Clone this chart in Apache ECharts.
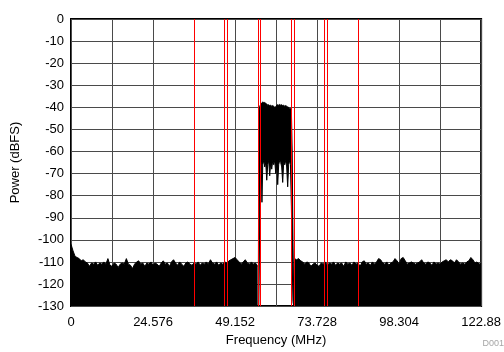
<!DOCTYPE html>
<html>
<head>
<meta charset="utf-8">
<script src="https://cdn.jsdelivr.net/npm/echarts@6/dist/echarts.min.js"></script>
<style>
  html, body { margin: 0; padding: 0; background: #fff; }
  #chart { width: 504px; height: 352px; }
</style>
</head>
<body>
<div id="chart"></div>
<script>
// FFT bin width of the spectrum (MHz)
const binStep = 0.6144

// noise floor below the carrier, bins 0..91
const noiseLow = [
  -102, -105, -107.5, -108, -108.5, -109.5, -109, -110, -110.5, -112,
  -110.5, -111, -110, -111.5, -110.5, -111, -110, -111, -108.5, -111.5,
  -112, -110.5, -111, -112.5, -111, -110.5, -111, -108.5, -111, -111.5,
  -113, -111, -110, -109.5, -111, -110.5, -112, -110.5, -111, -110,
  -111.5, -110.5, -111, -112, -110.5, -109.5, -111, -110.5, -112, -110,
  -109, -110.5, -111.5, -110, -111, -112, -110.5, -110, -111, -111.5,
  -110.5, -111, -110, -111.5, -110.5, -111, -110, -111, -109, -110.5,
  -111, -110, -111.5, -110.5, -111, -110, -110.5, -109.5, -109, -108.5,
  -108, -109, -110, -111, -110, -109, -110.5, -111, -110, -111,
  -110.5, -112,
]
const noiseLowStartBin = 0

// noise floor above the carrier, bins 109..200
const noiseHigh = [
  -108.5, -109, -108.5, -109.5, -110, -111, -110, -110.5, -112, -111,
  -110.5, -111.5, -112, -110.5, -111, -110, -111.5, -110.5, -111, -110,
  -111.5, -110.5, -111, -110.5, -112, -110, -111, -110.5, -111.5, -110,
  -111, -110.5, -112, -110, -109.5, -111, -110.5, -111.5, -110, -111,
  -110, -108.5, -109, -110.5, -111, -110, -111.5, -110.5, -110, -108.5,
  -109.5, -111, -108.5, -108, -109.5, -111, -110.5, -110, -110.5, -111,
  -110.5, -110, -109, -110.5, -111, -110, -110.5, -111.5, -110, -111,
  -110.5, -111, -110, -109.5, -109, -110, -109, -109.5, -110.5, -109,
  -110, -111, -110.5, -111, -110, -109.5, -108, -109, -110.5, -110,
  -111, -110.5,
]
const noiseHighStartBin = 109

// carrier: frequency, top of trace, bottom of trace
const bandFreq = [
  56.11, 56.28, 56.49, 56.70, 57.00, 57.21, 57.45, 57.75, 58.05, 58.35,
  58.65, 58.94, 59.24, 59.54, 59.84, 60.14, 60.44, 60.74, 61.04, 61.34,
  61.64, 61.93, 62.23, 62.53, 62.83, 63.13, 63.43, 63.73, 64.03, 64.33,
  64.62, 64.92, 65.22, 65.52, 65.76, 66.03, 66.27, 66.51, 66.75,
]
const bandTop = [
  -130, -42, -40, -39, -38.5, -38, -37.5, -38, -37.8, -38.2,
  -38.5, -39, -38.8, -39.2, -39, -39.5, -39.2, -39.5, -40, -39.8,
  -39, -38.8, -39, -38.7, -39, -38.8, -39.2, -39, -39.5, -39.2,
  -39.5, -39.8, -40, -40.5, -40.5, -41, -60, -100, -128,
]
const bandBottom = [
  -130, -130, -100, -66, -65, -83, -66, -64, -67, -65,
  -73, -66, -64, -71, -65, -68, -64, -66, -64, -70,
  -65, -75, -66, -64, -65, -67, -74, -65, -66, -64,
  -67, -76, -66, -64, -66, -85, -110, -128, -130,
]

// integration band edges (MHz)
const markerFreq = [36.864, 45.94, 46.93, 56.02, 56.79, 65.97, 66.78, 75.83, 76.64, 86.016]

const xTickLabels = ['0', '24.576', '49.152', '73.728', '98.304', '122.88']

const toPairs = (vals, startBin) => vals.map((v, i) => [(startBin + i) * binStep, v])

const chart = echarts.init(document.getElementById('chart'))

const font = 'Liberation Sans, Arial, sans-serif'

const noiseStyle = {
  type: 'line',
  showSymbol: false,
  symbol: 'none',
  lineStyle: { color: '#000', width: 1 },
  areaStyle: { color: '#000', opacity: 1, origin: 'start' },
  silent: true,
  z: 2,
}

chart.setOption({
  animation: false,
  textStyle: { fontFamily: font },
  grid: {
    left: 71,
    right: 22,
    top: 19,
    bottom: 45,
    show: true,
    borderColor: '#000',
    borderWidth: 2,
  },
  xAxis: {
    type: 'value',
    min: 0,
    max: 122.88,
    interval: 12.288,
    name: 'Frequency (MHz)',
    nameLocation: 'middle',
    nameGap: 26,
    nameTextStyle: { color: '#000', fontSize: 13, fontFamily: font },
    axisLine: { show: false },
    axisTick: { show: false },
    axisLabel: {
      color: '#000',
      fontSize: 13,
      fontFamily: font,
      margin: 10,
      showMaxLabel: true,
      formatter: (v, i) => (i % 2 === 0 ? xTickLabels[i / 2] : ''),
    },
    splitLine: { show: true, lineStyle: { color: '#4a4a4a', width: 1 } },
  },
  yAxis: {
    type: 'value',
    min: -130,
    max: 0,
    interval: 10,
    name: 'Power (dBFS)',
    nameLocation: 'middle',
    nameGap: 49,
    nameTextStyle: { color: '#000', fontSize: 13, fontFamily: font },
    axisLine: { show: false },
    axisTick: { show: false },
    axisLabel: { color: '#000', fontSize: 13, fontFamily: font, margin: 7 },
    splitLine: { show: true, lineStyle: { color: '#4a4a4a', width: 1 } },
  },
  graphic: [
    {
      type: 'text',
      right: 0,
      bottom: 4,
      style: { text: 'D001', fontSize: 9, fill: '#a6a6a6', fontFamily: font },
    },
  ],
  series: [
    Object.assign({}, noiseStyle, { name: 'noiseLow', data: toPairs(noiseLow, noiseLowStartBin) }),
    Object.assign({}, noiseStyle, { name: 'noiseHigh', data: toPairs(noiseHigh, noiseHighStartBin) }),
    {
      // carrier trace is dense, so draw it as the area between its top and bottom
      name: 'carrier',
      type: 'custom',
      silent: true,
      clip: true,
      data: [[61.44, -40]],
      encode: { x: 0, y: 1 },
      z: 2,
      renderItem: (params, api) => {
        const pts = []
        bandFreq.forEach((f, i) => pts.push(api.coord([f, bandTop[i]])))
        for (let i = bandFreq.length - 1; i >= 0; i--) {
          pts.push(api.coord([bandFreq[i], bandBottom[i]]))
        }
        return {
          type: 'polygon',
          shape: { points: pts },
          style: { fill: '#000', stroke: '#000', lineWidth: 1 },
        }
      },
    },
    {
      name: 'markers',
      type: 'line',
      data: [],
      silent: true,
      z: 5,
      markLine: {
        silent: true,
        symbol: ['none', 'none'],
        label: { show: false },
        lineStyle: { color: '#ff0000', width: 1, type: 'solid' },
        z: 5,
        data: markerFreq.map(f => ({ xAxis: f })),
      },
    },
  ],
})

window.addEventListener('resize', () => chart.resize())
</script>
</body>
</html>
